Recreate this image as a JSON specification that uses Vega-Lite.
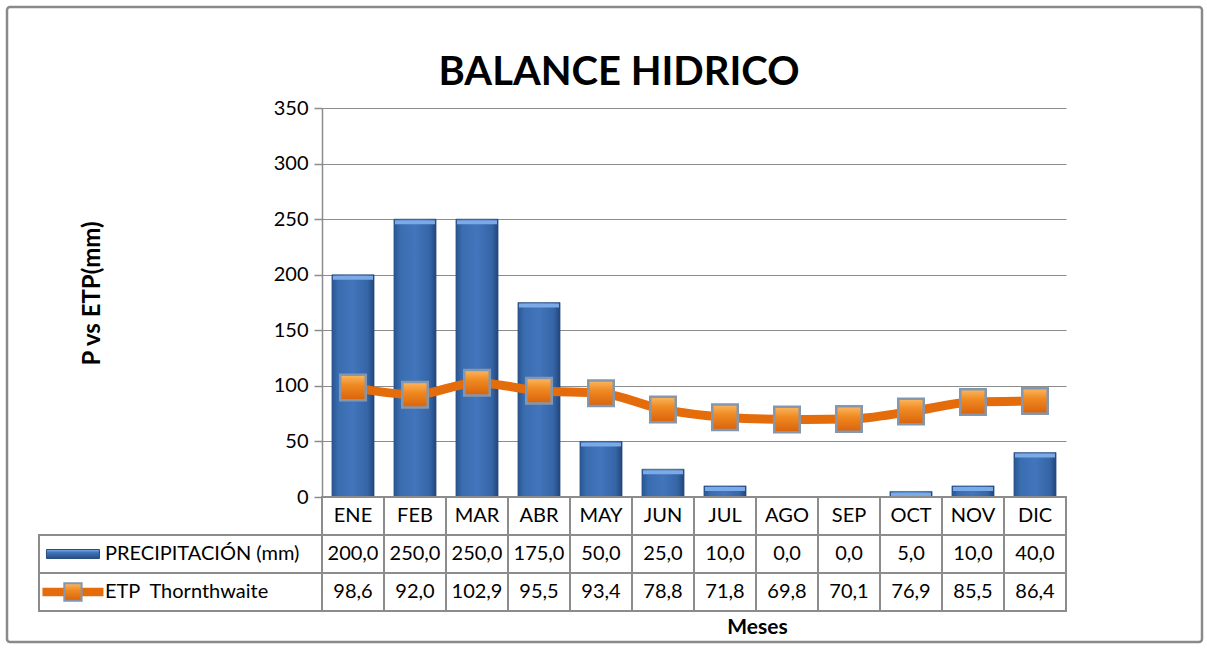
{
  "$schema": "https://vega.github.io/schema/vega-lite/v6.json",
  "width": 744,
  "height": 389,
  "autosize": {"type": "none"},
  "padding": {"left": 322, "top": 108, "right": 141, "bottom": 153},
  "background": "white",
  "config": {
    "font": "Lato",
    "view": {"stroke": null},
    "locale": {"number": {"decimal": ",", "thousands": ".", "grouping": [3], "currency": ["", " €"]}}
  },
  "title": {
    "text": "BALANCE HIDRICO",
    "fontSize": 40,
    "fontWeight": "bold",
    "font": "Lato",
    "color": "black",
    "anchor": "middle",
    "frame": "group",
    "dx": -75,
    "offset": -119,
    "baseline": "alphabetic"
  },
  "data": {
    "values": [
      {"mes": "ENE", "P": 200.0, "ETP": 98.6},
      {"mes": "FEB", "P": 250.0, "ETP": 92.0},
      {"mes": "MAR", "P": 250.0, "ETP": 102.9},
      {"mes": "ABR", "P": 175.0, "ETP": 95.5},
      {"mes": "MAY", "P": 50.0, "ETP": 93.4},
      {"mes": "JUN", "P": 25.0, "ETP": 78.8},
      {"mes": "JUL", "P": 10.0, "ETP": 71.8},
      {"mes": "AGO", "P": 0.0, "ETP": 69.8},
      {"mes": "SEP", "P": 0.0, "ETP": 70.1},
      {"mes": "OCT", "P": 5.0, "ETP": 76.9},
      {"mes": "NOV", "P": 10.0, "ETP": 85.5},
      {"mes": "DIC", "P": 40.0, "ETP": 86.4}
    ]
  },
  "resolve": {"scale": {"x": "independent", "y": "independent"}},
  "layer": [
    {
      "data": {"values": [{"marco": "grafico"}]},
      "mark": {"type": "rect", "fill": null, "filled": false, "stroke": "#8A8A8A", "strokeWidth": 2.5, "cornerRadius": 3},
      "encoding": {
        "x": {"field": "marco", "type": "nominal", "scale": {"type": "band", "domain": ["grafico"], "range": [-315, 880], "paddingInner": 0, "paddingOuter": 0}, "axis": null},
        "y": {"field": "marco", "type": "nominal", "scale": {"type": "band", "domain": ["grafico"], "range": [-101, 534], "paddingInner": 0, "paddingOuter": 0}, "axis": null}
      }
    },
    {
      "encoding": {
        "x": {
          "field": "mes", "type": "nominal", "sort": null,
          "scale": {"domain": ["ENE","FEB","MAR","ABR","MAY","JUN","JUL","AGO","SEP","OCT","NOV","DIC"], "paddingInner": 0, "paddingOuter": 0},
          "axis": null
        }
      },
      "layer": [
        {
          "mark": {
            "type": "bar",
            "width": {"band": 0.68},
            "fill": {"gradient": "linear", "x1": 0, "y1": 0, "x2": 1, "y2": 0,
              "stops": [
                {"offset": 0, "color": "#2A5690"},
                {"offset": 0.15, "color": "#3A6CB0"},
                {"offset": 0.5, "color": "#4275BB"},
                {"offset": 0.85, "color": "#3565A6"},
                {"offset": 1, "color": "#21467B"}
              ]},
            "stroke": "#2A4D7C",
            "strokeWidth": 0.6
          },
          "encoding": {
            "y": {
              "field": "P", "type": "quantitative",
              "scale": {"domain": [0, 350], "nice": false, "zero": true},
              "title": "P vs ETP(mm)",
              "axis": {
                "values": [0, 50, 100, 150, 200, 250, 300, 350],
                "grid": true, "gridColor": "#8C8C8C", "gridWidth": 1,
                "domainColor": "#8C8C8C", "domainWidth": 1.5,
                "tickColor": "#8C8C8C", "tickSize": 8, "tickWidth": 1.5,
                "labelFontSize": 20, "labelColor": "black", "labelPadding": 6,
                "titleFontSize": 24, "titleFontWeight": "bold", "titleColor": "black",
                "titleX": -230, "titleY": 185, "titleAngle": -90,
                "titleBaseline": "middle", "titleAlign": "center"
              }
            }
          }
        },
        {
          "transform": [{"filter": "datum.P > 0"}],
          "mark": {"type": "tick", "orient": "horizontal", "size": 40, "thickness": 4, "color": "#7BAAE6", "opacity": 1},
          "encoding": {
            "y": {"field": "P", "type": "quantitative", "title": "P vs ETP(mm)"},
            "yOffset": {"value": 3}
          }
        },
        {
          "mark": {"type": "line", "color": "#E46C0A", "strokeWidth": 9, "interpolate": "monotone"},
          "encoding": {
            "y": {"field": "ETP", "type": "quantitative", "title": "P vs ETP(mm)"}
          }
        },
        {
          "mark": {
            "type": "point", "shape": "square", "size": 650, "filled": true, "opacity": 1,
            "fill": {"gradient": "linear", "x1": 0, "y1": 0, "x2": 0, "y2": 1,
              "stops": [
                {"offset": 0, "color": "#FBB862"},
                {"offset": 0.4, "color": "#F08A22"},
                {"offset": 1, "color": "#D9620A"}
              ]},
            "stroke": "#8497B0", "strokeWidth": 2.5
          },
          "encoding": {
            "y": {"field": "ETP", "type": "quantitative", "title": "P vs ETP(mm)"}
          }
        }
      ]
    },
    {
      "resolve": {"scale": {"x": "independent"}},
      "layer": [
        {
          "encoding": {
            "x": {
              "field": "mes", "type": "nominal", "sort": null,
              "scale": {"domain": ["ENE","FEB","MAR","ABR","MAY","JUN","JUL","AGO","SEP","OCT","NOV","DIC"], "paddingInner": 0, "paddingOuter": 0},
              "axis": {
                "title": "Meses", "labels": false, "ticks": false, "domain": false, "grid": false,
                "titleFontSize": 21, "titleFontWeight": "bold", "titleColor": "black",
                "titleX": 435, "titleY": 130, "titleBaseline": "middle"
              }
            }
          },
          "layer": [
            {
              "mark": {"type": "rect", "fill": "white", "stroke": "#8C8C8C", "strokeWidth": 2},
              "encoding": {
                "y": {"datum": "Mes", "type": "nominal", "scale": {"type": "band", "domain": ["Mes","P","ETP"], "range": [389, 503], "paddingInner": 0, "paddingOuter": 0}, "axis": null}
              }
            },
            {
              "mark": {"type": "text", "fontSize": 20, "baseline": "middle", "color": "black"},
              "encoding": {
                "y": {"datum": "Mes", "type": "nominal", "scale": {"type": "band", "domain": ["Mes","P","ETP"], "range": [389, 503], "paddingInner": 0, "paddingOuter": 0}, "axis": null},
                "text": {"field": "mes", "type": "nominal"}
              }
            },
            {
              "transform": [{"fold": ["P", "ETP"], "as": ["fila", "valor"]}],
              "mark": {"type": "rect", "fill": "white", "stroke": "#8C8C8C", "strokeWidth": 2},
              "encoding": {
                "y": {"field": "fila", "type": "nominal", "scale": {"type": "band", "domain": ["Mes","P","ETP"], "range": [389, 503], "paddingInner": 0, "paddingOuter": 0}, "axis": null}
              }
            },
            {
              "transform": [{"fold": ["P", "ETP"], "as": ["fila", "valor"]}],
              "mark": {"type": "text", "fontSize": 20, "baseline": "middle", "color": "black"},
              "encoding": {
                "y": {"field": "fila", "type": "nominal", "scale": {"type": "band", "domain": ["Mes","P","ETP"], "range": [389, 503], "paddingInner": 0, "paddingOuter": 0}, "axis": null},
                "text": {"field": "valor", "type": "quantitative", "format": ".1f"}
              }
            }
          ]
        },
        {
          "data": {
            "values": [
              {"fila": "P", "nombre": "PRECIPITACIÓN (mm)"},
              {"fila": "ETP", "nombre": "ETP\u00a0 Thornthwaite"}
            ]
          },
          "encoding": {
            "y": {"field": "fila", "type": "nominal", "scale": {"type": "band", "domain": ["Mes","P","ETP"], "range": [389, 503], "paddingInner": 0, "paddingOuter": 0}, "axis": null}
          },
          "layer": [
            {
              "mark": {"type": "rect", "fill": "white", "stroke": "#8C8C8C", "strokeWidth": 2},
              "encoding": {
                "x": {"datum": "serie", "type": "nominal", "scale": {"type": "band", "domain": ["serie"], "range": [-283, 0], "paddingInner": 0, "paddingOuter": 0}, "axis": null}
              }
            },
            {
              "mark": {"type": "text", "fontSize": 20, "baseline": "middle", "align": "left", "dx": 66, "color": "black"},
              "encoding": {
                "x": {"datum": "serie", "type": "nominal", "bandPosition": 0, "scale": {"type": "band", "domain": ["serie"], "range": [-283, 0], "paddingInner": 0, "paddingOuter": 0}, "axis": null},
                "text": {"field": "nombre", "type": "nominal"}
              }
            },
            {
              "transform": [{"filter": "datum.fila === 'P'"}],
              "mark": {
                "type": "point", "shape": "M-1,-0.17H1V0.17H-1Z", "size": 2809, "filled": true, "opacity": 1,
                "fill": {"gradient": "linear", "x1": 0, "y1": 0, "x2": 0, "y2": 1,
                  "stops": [{"offset": 0, "color": "#7FAEE8"}, {"offset": 0.35, "color": "#3F73BA"}, {"offset": 1, "color": "#264F86"}]},
                "stroke": "#2A4D7C", "strokeWidth": 1
              },
              "encoding": {
                "x": {"datum": "serie", "type": "nominal", "bandPosition": 0.12, "scale": {"type": "band", "domain": ["serie"], "range": [-283, 0], "paddingInner": 0, "paddingOuter": 0}, "axis": null}
              }
            },
            {
              "transform": [{"filter": "datum.fila === 'ETP'"}],
              "mark": {"type": "point", "shape": "M-1,-0.14H1V0.14H-1Z", "size": 3721, "filled": true, "opacity": 1, "fill": "#E46C0A", "strokeWidth": 0},
              "encoding": {
                "x": {"datum": "serie", "type": "nominal", "bandPosition": 0.12, "scale": {"type": "band", "domain": ["serie"], "range": [-283, 0], "paddingInner": 0, "paddingOuter": 0}, "axis": null}
              }
            },
            {
              "transform": [{"filter": "datum.fila === 'ETP'"}],
              "mark": {
                "type": "point", "shape": "square", "size": 300, "filled": true, "opacity": 1,
                "fill": {"gradient": "linear", "x1": 0, "y1": 0, "x2": 0, "y2": 1,
                  "stops": [{"offset": 0, "color": "#FBB862"}, {"offset": 0.4, "color": "#F08A22"}, {"offset": 1, "color": "#D9620A"}]},
                "stroke": "#8497B0", "strokeWidth": 2
              },
              "encoding": {
                "x": {"datum": "serie", "type": "nominal", "bandPosition": 0.12, "scale": {"type": "band", "domain": ["serie"], "range": [-283, 0], "paddingInner": 0, "paddingOuter": 0}, "axis": null}
              }
            }
          ]
        }
      ]
    }
  ]
}
